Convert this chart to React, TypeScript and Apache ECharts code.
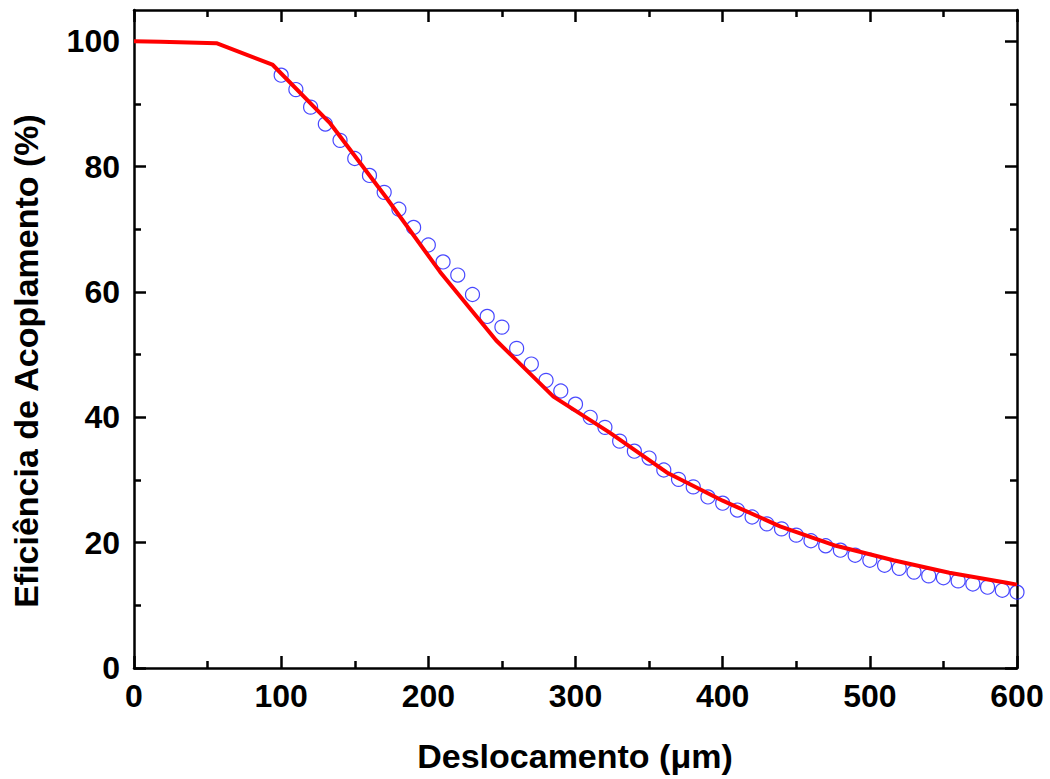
import React, { useEffect, useRef } from "react";
import * as echarts from "echarts";

const measuredX = [100, 110, 120, 130, 140, 150, 160, 170, 180, 190, 200, 210, 220, 230, 240, 250, 260, 270, 280, 290, 300, 310, 320, 330, 340, 350, 360, 370, 380, 390, 400, 410, 420, 430, 440, 450, 460, 470, 480, 490, 500, 510, 520, 530, 540, 550, 560, 570, 580, 590, 600];
const measuredY = [94.6, 92.3, 89.5, 86.8, 84.2, 81.3, 78.6, 75.9, 73.2, 70.3, 67.5, 64.8, 62.7, 59.6, 56.1, 54.4, 51.0, 48.5, 45.9, 44.2, 42.1, 40.0, 38.4, 36.2, 34.6, 33.5, 31.6, 30.1, 28.9, 27.3, 26.3, 25.2, 24.1, 23.0, 22.2, 21.2, 20.3, 19.5, 18.8, 18.0, 17.2, 16.4, 15.9, 15.3, 14.7, 14.4, 13.9, 13.4, 12.9, 12.4, 12.1];

const fitX = [0, 18, 56, 94, 133, 171, 208, 246, 285, 323, 362, 400, 439, 477, 516, 554, 593, 600];
const fitY = [100, 99.95, 99.7, 96.3, 87.0, 75.2, 63.2, 52.3, 43.3, 37.6, 31.2, 26.7, 22.6, 19.5, 17.2, 15.2, 13.6, 13.3];

const xMajorTicks = [0, 100, 200, 300, 400, 500, 600];
const xMinorTicks = [50, 150, 250, 350, 450, 550];
const yMajorTicks = [0, 20, 40, 60, 80, 100];
const yMinorTicks = [10, 30, 50, 70, 90];

const xTitle = "Deslocamento (\u03bcm)";
const yTitle = "Efici\u00eancia de Acoplamento (%)";

const FONT = "'Liberation Sans', Arial, Helvetica, sans-serif";

export default function App() {
  const ref = useRef<HTMLDivElement>(null);

  useEffect(() => {
    if (!ref.current) return;
    const chart = echarts.init(ref.current, null, { renderer: "svg" });

    const lineStyle = { color: "#000", width: 2.5 };
    const mkX = (position: string, ticks: number[], len: number, labels: boolean, line: boolean) => ({
      type: "value",
      min: 0,
      max: 600,
      position,
      axisLine: { show: line, onZero: false, lineStyle },
      axisTick: { show: true, inside: true, length: len, customValues: ticks, lineStyle: { color: "#000", width: 2.5 } },
      axisLabel: labels
        ? { show: true, customValues: ticks, margin: 12, color: "#000", fontSize: 32, fontWeight: "bold", fontFamily: FONT }
        : { show: false },
      splitLine: { show: false },
    });
    const mkY = (position: string, ticks: number[], len: number, labels: boolean, line: boolean) => ({
      type: "value",
      min: 0,
      max: 105,
      position,
      axisLine: { show: line, onZero: false, lineStyle },
      axisTick: { show: true, inside: true, length: len, customValues: ticks, lineStyle: { color: "#000", width: 2.5 } },
      axisLabel: labels
        ? { show: true, customValues: ticks, margin: 14, color: "#000", fontSize: 32, fontWeight: "bold", fontFamily: FONT }
        : { show: false },
      splitLine: { show: false },
    });

    chart.setOption({
      animation: false,
      backgroundColor: "#fff",
      grid: { left: 134, right: 33, top: 10, bottom: 111, containLabel: false },
      xAxis: [
        mkX("bottom", xMajorTicks, 12, true, true),
        mkX("bottom", xMinorTicks, 7, false, false),
        mkX("top", xMajorTicks, 12, false, true),
        mkX("top", xMinorTicks, 7, false, false),
      ],
      yAxis: [
        mkY("left", yMajorTicks, 12, true, true),
        mkY("left", yMinorTicks, 7, false, false),
        mkY("right", yMajorTicks, 12, false, true),
        mkY("right", yMinorTicks, 7, false, false),
      ],
      series: [
        {
          type: "scatter",
          xAxisIndex: 0,
          yAxisIndex: 0,
          data: measuredX.map((x, i) => [x, measuredY[i]]),
          symbol: "circle",
          symbolSize: 14,
          itemStyle: { color: "rgba(255,255,255,0)", borderColor: "#1a1aff", borderWidth: 1.2 },
          z: 2,
        },
        {
          type: "line",
          xAxisIndex: 0,
          yAxisIndex: 0,
          data: fitX.map((x, i) => [x, fitY[i]]),
          showSymbol: false,
          symbol: "none",
          lineStyle: { color: "#ff0000", width: 4 },
          z: 3,
        },
      ],
      graphic: [
        {
          type: "text",
          x: 575,
          y: 756,
          style: {
            text: xTitle,
            fill: "#000",
            font: `bold 34px ${FONT}`,
            textAlign: "center",
            textVerticalAlign: "middle",
          },
        },
        {
          type: "text",
          x: 26,
          y: 361,
          rotation: Math.PI / 2,
          style: {
            text: yTitle,
            fill: "#000",
            font: `bold 34px ${FONT}`,
            textAlign: "center",
            textVerticalAlign: "middle",
          },
        },
      ],
    });

    return () => chart.dispose();
  }, []);

  return <div ref={ref} style={{ width: 1050, height: 779, position: "absolute", left: 0, top: 0 }} />;
}
